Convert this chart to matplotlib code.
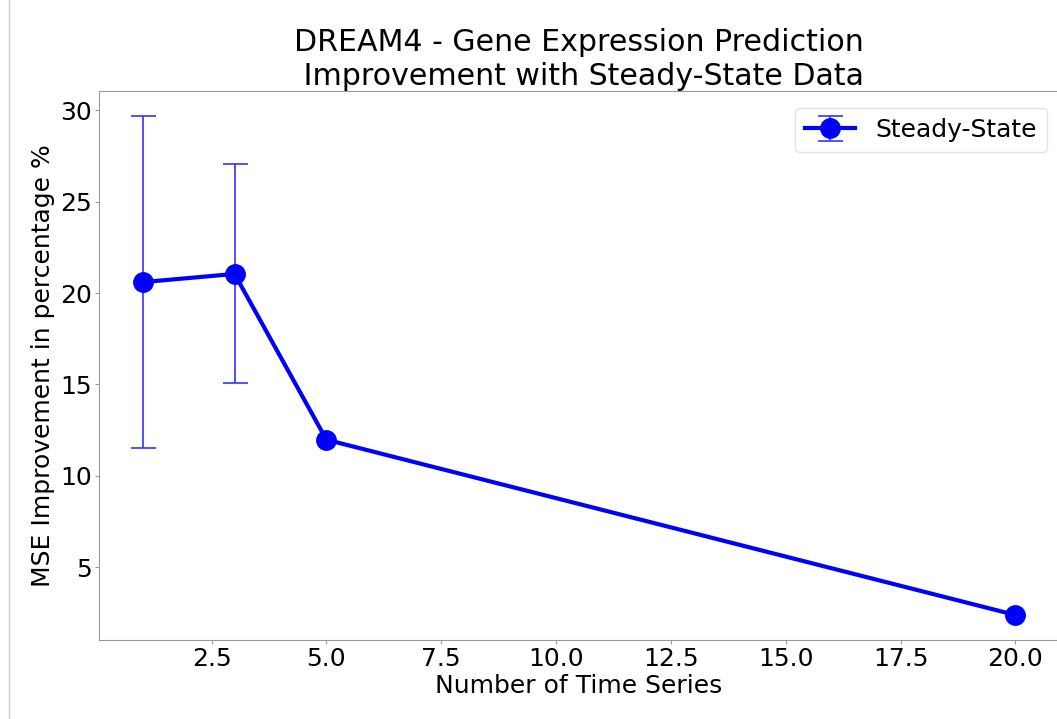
import numpy as np
import matplotlib
matplotlib.use("Agg")
import matplotlib.pyplot as plt
from matplotlib.lines import Line2D

# values
n_series = [1, 3, 5, 20]
improvement = [20.6, 21.05, 11.97, 2.37]
improvement_err = [9.1, 6.0, 0.0, 0.0]
show_err = [True, True, False, False]

grey = "#999999"

fig = plt.figure(figsize=(10.57, 7.19), dpi=100)
ax = fig.add_axes((0.0937, 0.1099, 0.9083, 0.7635))

ax.errorbar(n_series, improvement, yerr=improvement_err, errorevery=show_err,
            color="blue", lw=3, marker="o", markersize=14,
            ecolor=(0.2, 0.2, 1.0), elinewidth=1.2, capsize=9, capthick=1.2,
            label="Steady-State")

ax.set_title("DREAM4 - Gene Expression Prediction\n Improvement with Steady-State Data",
             fontsize=21.6, pad=4)
ax.set_xlabel("Number of Time Series", fontsize=18, labelpad=2)
ax.set_ylabel("MSE Improvement in percentage %", fontsize=18, labelpad=4)
ax.tick_params(labelsize=18, color=grey, length=3, pad=2)
for sp in ax.spines.values():
    sp.set_color(grey)

leg = ax.legend(fontsize=18, loc="upper right", bbox_to_anchor=(0.999, 0.99),
                borderaxespad=0.45, frameon=True, handlelength=2.0)
leg.get_frame().set_edgecolor("#dddddd")

# thin border line at the left edge of the screenshot
fig.add_artist(Line2D([0.0085, 0.0085], [0.0, 1.0], transform=fig.transFigure,
                      color="#cccccc", lw=1))

fig.savefig("out.png", dpi=100)
